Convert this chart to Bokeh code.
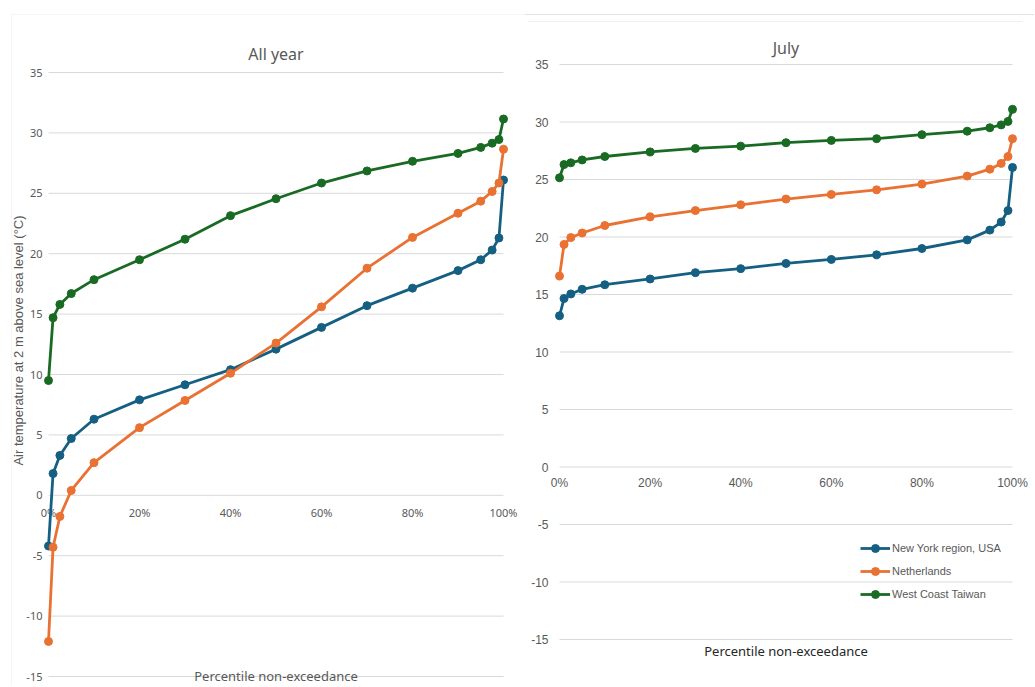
from bokeh.plotting import figure
from bokeh.models import Label, Range1d, Legend, LegendItem, ColumnDataSource, BoxAnnotation, Span
from bokeh.layouts import row
from bokeh.core.properties import value
from bokeh.embed import file_html
from bokeh.resources import INLINE
import math

# ---------------- data ----------------
percentiles = [0, 0.01, 0.025, 0.05, 0.1, 0.2, 0.3, 0.4, 0.5, 0.6, 0.7, 0.8, 0.9, 0.95, 0.975, 0.99, 1.0]

allyear_newyork = [-4.2, 1.8, 3.3, 4.7, 6.3, 7.9, 9.15, 10.4, 12.1, 13.9, 15.7, 17.15, 18.6, 19.5, 20.3, 21.3, 26.1]
allyear_netherlands = [-12.1, -4.3, -1.75, 0.4, 2.7, 5.6, 7.85, 10.1, 12.6, 15.6, 18.8, 21.35, 23.35, 24.35, 25.15, 25.85, 28.65]
allyear_taiwan = [9.5, 14.7, 15.8, 16.7, 17.85, 19.5, 21.2, 23.15, 24.55, 25.85, 26.85, 27.65, 28.3, 28.8, 29.15, 29.45, 31.15]

july_newyork = [13.15, 14.65, 15.05, 15.45, 15.85, 16.35, 16.9, 17.25, 17.7, 18.05, 18.45, 19.0, 19.75, 20.6, 21.3, 22.3, 26.05]
july_netherlands = [16.6, 19.35, 19.95, 20.35, 21.0, 21.75, 22.3, 22.8, 23.3, 23.7, 24.1, 24.6, 25.3, 25.9, 26.4, 27.0, 28.55]
july_taiwan = [25.15, 26.3, 26.45, 26.7, 27.0, 27.4, 27.7, 27.9, 28.2, 28.4, 28.55, 28.9, 29.2, 29.5, 29.75, 30.05, 31.1]

series_names = ["New York region, USA", "Netherlands", "West Coast Taiwan"]
series_colors = ["#156082", "#E97132", "#196B24"]

x_tick_values = [0, 0.2, 0.4, 0.6, 0.8, 1.0]
x_tick_labels = ["0%", "20%", "40%", "60%", "80%", "100%"]
y_ticks = [-15, -10, -5, 0, 5, 10, 15, 20, 25, 30, 35]
y_tick_labels = [str(v) for v in y_ticks]

TXT = "#595959"
GRID = "#d9d9d9"
FRAME = "#e2e2e2"
FONT_T = "Noto Sans"
FONT_A = "Liberation Sans"
H = 686


def make_panel(title, series, width, px0, px1, py_top, py_bot, tick_size, tick_font,
               ylab_off, xlab_off, title_py, xt_py, xt_color, xt_size):
    """px0/px1: pixel x of 0 %/100 %; py_top/py_bot: pixel y of 35/-15 (figure coords)."""
    sx = (px1 - px0) / 1.0
    sy = (py_bot - py_top) / 50.0
    x_start = -px0 / sx
    x_end = 1 + (width - px1) / sx
    y_end = 35 + py_top / sy
    y_start = -15 - (H - py_bot) / sy
    p = figure(width=width, height=H, output_backend="svg", toolbar_location=None,
               x_range=Range1d(x_start, x_end), y_range=Range1d(y_start, y_end),
               min_border=0, background_fill_color="white", border_fill_color="white")
    p.outline_line_color = None
    p.axis.visible = False
    p.grid.visible = False

    def dx(px):
        return (px - px0) / sx

    def dy(py):
        return 35 - (py - py_top) / sy

    # gridlines
    p.segment(x0=[0] * len(y_ticks), x1=[1] * len(y_ticks), y0=y_ticks, y1=y_ticks,
              line_color=GRID, line_width=1)
    # y tick labels
    ysrc = ColumnDataSource(dict(x=[0] * len(y_ticks), y=y_ticks, t=y_tick_labels))
    p.text(x="x", y="y", text="t", source=ysrc, text_align="right", text_baseline="middle",
           x_offset=ylab_off, text_color=TXT, text_font=value(tick_font), text_font_size=tick_size)
    # x tick labels at the 0 line
    xsrc = ColumnDataSource(dict(x=x_tick_values, y=[0] * len(x_tick_values), t=x_tick_labels))
    p.text(x="x", y="y", text="t", source=xsrc, text_align="center", text_baseline="top",
           y_offset=xlab_off, text_color=TXT, text_font=value(tick_font), text_font_size=tick_size)

    items = []
    for name, col, ys in zip(series_names, series_colors, series):
        l = p.line(percentiles, ys, line_color=col, line_width=2.8)
        c = p.scatter(percentiles, ys, marker="circle", size=8, fill_color=col, line_color=col)
        items.append(LegendItem(label=name, renderers=[l, c]))

    p.add_layout(Label(x=0.5, y=dy(title_py), text=title, text_align="center",
                       text_baseline="middle", text_font=FONT_T, text_font_size="16px",
                       text_color=TXT))
    p.add_layout(Label(x=0.5, y=dy(xt_py), text="Percentile non-exceedance", text_align="center",
                       text_baseline="middle", text_font=FONT_T, text_font_size=xt_size,
                       text_color=xt_color))
    return p, items, dx, dy


# ---------- left panel: All year ----------
left, litems, ldx, ldy = make_panel("All year", [allyear_newyork, allyear_netherlands, allyear_taiwan],
                                    width=524, px0=48, px1=503, py_top=72, py_bot=676,
                                    tick_size="11px", tick_font=FONT_T, ylab_off=-6, xlab_off=10,
                                    title_py=53, xt_py=675, xt_color=TXT, xt_size="13px")
left.add_layout(Label(x=ldx(18), y=ldy(340), text="Air temperature at 2 m above sea level (\u00b0C)",
                      angle=math.pi / 2, text_align="center", text_baseline="middle",
                      text_font=FONT_A, text_font_size="13px", text_color=TXT))
left.add_layout(BoxAnnotation(left=ldx(11), top=ldy(14), fill_alpha=0, line_color=FRAME,
                              line_width=1))

# ---------- right panel: July ----------
OFF = 524
right, ritems, rdx, rdy = make_panel("July", [july_newyork, july_netherlands, july_taiwan],
                                     width=510, px0=559 - OFF, px1=1012 - OFF, py_top=64, py_bot=639,
                                     tick_size="12px", tick_font=FONT_A, ylab_off=-11, xlab_off=9,
                                     title_py=47, xt_py=650, xt_color="#262626", xt_size="13px")
right.add_layout(Span(location=rdy(14), dimension="width", line_color=FRAME, line_width=1))
right.add_layout(BoxAnnotation(left=rdx(527 - OFF), right=rdx(1022 - OFF), top=rdy(21), bottom=rdy(21),
                               fill_alpha=0, line_color=FRAME, line_width=1))

lg = Legend(items=ritems, location=(336, 82), background_fill_alpha=0,
            border_line_color=None, label_text_font=FONT_A, label_text_font_size="11px",
            label_text_color=TXT, glyph_width=30, glyph_height=20, label_height=20,
            spacing=3, padding=0, margin=0, label_standoff=2)
right.add_layout(lg, "center")

layout = row(left, right)
open("out.html", "w").write(file_html(layout, INLINE))
